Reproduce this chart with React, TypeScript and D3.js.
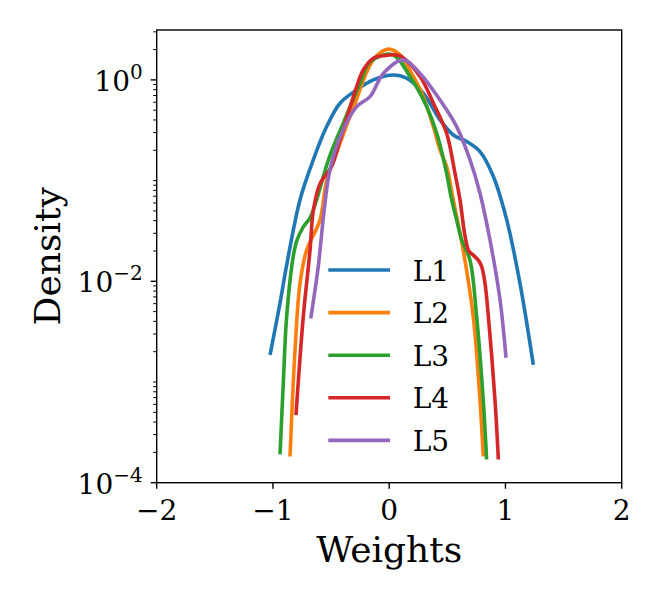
import * as d3 from "d3";

// layer names and colours (matplotlib tab10)
const layers = ["L1", "L2", "L3", "L4", "L5"];
const colors = ["#1f77b4", "#ff7f0e", "#2ca02c", "#d62728", "#9467bd"];

// weight values (x) and density (y), one pair of arrays per layer
const l1W = [-1.025, -0.94, -0.882, -0.767, -0.653, -0.538, -0.423, -0.28, -0.137, 0.035, 0.15, 0.293, 0.437, 0.551, 0.667, 0.781, 0.896, 1.011, 1.125, 1.24];
const l1D = [0.00186, 0.006, 0.0145, 0.0646, 0.161, 0.344, 0.586, 0.796, 1.0, 1.12, 1.04, 0.738, 0.401, 0.284, 0.244, 0.194, 0.11, 0.0407, 0.00955, 0.00148];

const l2W = [-0.853, -0.81, -0.767, -0.71, -0.595, -0.538, -0.42, -0.3, -0.137, -0.008, 0.093, 0.2, 0.293, 0.38, 0.437, 0.494, 0.551, 0.609, 0.637, 0.723, 0.781, 0.809];
const l2D = [0.000182, 0.00209, 0.00955, 0.0204, 0.0407, 0.1, 0.24, 0.562, 1.58, 2.02, 1.77, 1.12, 0.682, 0.344, 0.202, 0.138, 0.0646, 0.0302, 0.0204, 0.00447, 0.000661, 0.000182];

const l3W = [-0.939, -0.911, -0.882, -0.825, -0.796, -0.739, -0.681, -0.624, -0.567, -0.5, -0.395, -0.337, -0.25, -0.165, 0.03, 0.179, 0.322, 0.409, 0.494, 0.537, 0.58, 0.624, 0.695, 0.752, 0.809, 0.838];
const l3D = [0.000191, 0.000977, 0.00447, 0.0178, 0.0251, 0.0347, 0.0427, 0.0646, 0.11, 0.191, 0.372, 0.543, 0.927, 1.51, 1.78, 1.08, 0.543, 0.295, 0.118, 0.0646, 0.0407, 0.0257, 0.0162, 0.00447, 0.000661, 0.00017];

const l4W = [-0.802, -0.739, -0.681, -0.653, -0.595, -0.495, -0.423, -0.352, -0.28, -0.222, -0.137, -0.05, 0.093, 0.265, 0.38, 0.494, 0.566, 0.609, 0.652, 0.685, 0.723, 0.766, 0.795, 0.824, 0.853, 0.91, 0.939];
const l4D = [0.000468, 0.00447, 0.0204, 0.0501, 0.0933, 0.138, 0.254, 0.467, 0.859, 1.26, 1.64, 1.74, 1.73, 1.08, 0.587, 0.295, 0.118, 0.0646, 0.0282, 0.02, 0.0182, 0.0162, 0.0141, 0.00955, 0.00447, 0.000661, 0.00017];

const l5W = [-0.675, -0.61, -0.56, -0.51, -0.41, -0.28, -0.165, -0.05, 0.121, 0.265, 0.437, 0.58, 0.695, 0.781, 0.867, 0.953, 1.005];
const l5D = [0.00427, 0.0141, 0.0501, 0.128, 0.295, 0.543, 0.682, 1.16, 1.58, 1.16, 0.632, 0.344, 0.161, 0.075, 0.0257, 0.0066, 0.00174];

const weights = [l1W, l2W, l3W, l4W, l5W];
const densities = [l1D, l2D, l3D, l4D, l5D];

const xTicks = [-2, -1, 0, 1, 2];
const yMajor = [-4, -2, 0]; // exponents

const W = 661;
const H = 600;
const left = 156.7;
const right = 621.7;
const top = 30;
const bottom = 482.7;
const font = "'DejaVu Serif', serif";

export default function App() {
  const x = d3.scaleLinear().domain([-2, 2]).range([left, right]);
  const y = d3.scaleLog().domain([1e-4, 3.13]).range([bottom, top]);

  const line = d3
    .line<[number, number]>()
    .x((d) => x(d[0]))
    .y((d) => y(d[1]))
    .curve(d3.curveCatmullRom.alpha(0.5));

  // minor ticks: 1..9 x 10^k that are not labelled majors
  const minor: number[] = [];
  for (let k = -4; k <= 0; k++) {
    for (let m = 1; m <= 9; m++) {
      const v = m * Math.pow(10, k);
      if (v > 3.13) continue;
      if (m === 1 && yMajor.includes(k)) continue;
      minor.push(v);
    }
  }

  const legendY0 = 270;
  const legendStep = 42.6;

  return (
    <svg
      width={W}
      height={H}
      style={{ position: "absolute", left: 0, top: 0, background: "#fff" }}
      fontFamily={font}
    >
      {layers.map((name, i) => (
        <path
          key={name}
          d={line(weights[i].map((w, j) => [w, densities[i][j]] as [number, number])) || ""}
          fill="none"
          stroke={colors[i]}
          strokeWidth={3.6}
          strokeLinejoin="round"
        />
      ))}

      {/* axes frame */}
      <rect
        x={left}
        y={top}
        width={right - left}
        height={bottom - top}
        fill="none"
        stroke="#000"
        strokeWidth={1.4}
      />

      {/* x ticks */}
      {xTicks.map((t) => (
        <g key={t}>
          <line x1={x(t)} x2={x(t)} y1={bottom} y2={bottom + 6} stroke="#000" strokeWidth={1.4} />
          <text x={x(t)} y={520} textAnchor="middle" fontSize={28} fill="#000">
            {t < 0 ? "\u2212" + Math.abs(t) : String(t)}
          </text>
        </g>
      ))}

      {/* y ticks */}
      {minor.map((v) => (
        <line key={v} x1={left - 3.5} x2={left} y1={y(v)} y2={y(v)} stroke="#000" strokeWidth={1} />
      ))}
      {yMajor.map((k) => (
        <g key={k}>
          <line x1={left - 6} x2={left} y1={y(Math.pow(10, k))} y2={y(Math.pow(10, k))} stroke="#000" strokeWidth={1.4} />
          <text x={left - 14} y={y(Math.pow(10, k)) + 11} textAnchor="end" fontSize={28} fill="#000">
            10
            <tspan dy={-12} fontSize={20}>
              {k < 0 ? "\u2212" + Math.abs(k) : String(k)}
            </tspan>
          </text>
        </g>
      ))}

      {/* axis labels */}
      <text x={(left + right) / 2} y={562} textAnchor="middle" fontSize={36} fill="#000">
        Weights
      </text>
      <text
        transform={`translate(60, ${(top + bottom) / 2}) rotate(-90)`}
        textAnchor="middle"
        fontSize={36}
        fill="#000"
      >
        Density
      </text>

      {/* legend */}
      {layers.map((name, i) => (
        <g key={name}>
          <line
            x1={328.3}
            x2={390}
            y1={legendY0 + i * legendStep}
            y2={legendY0 + i * legendStep}
            stroke={colors[i]}
            strokeWidth={3.6}
          />
          <text x={412.7} y={legendY0 + i * legendStep + 10.5} fontSize={28} fill="#000">
            {name}
          </text>
        </g>
      ))}
    </svg>
  );
}
